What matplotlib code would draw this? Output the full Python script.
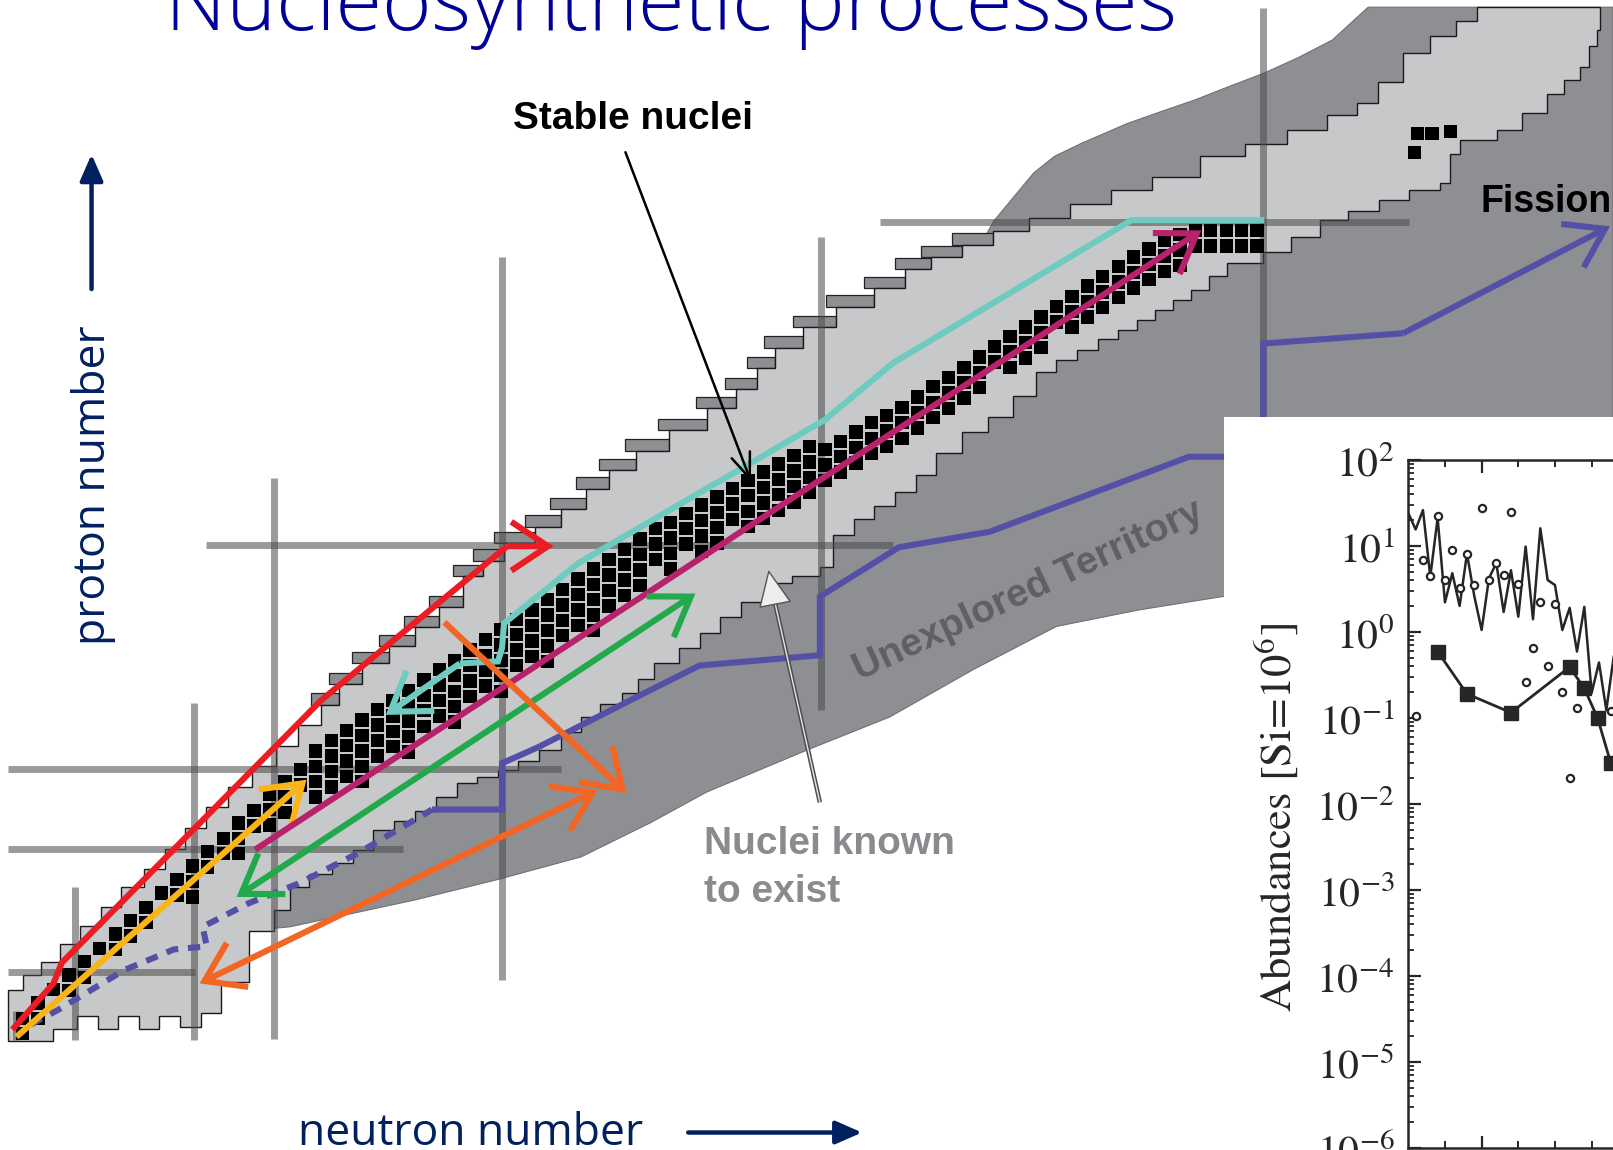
import numpy as np
import matplotlib
matplotlib.use("Agg")
import matplotlib.pyplot as plt
from matplotlib.patches import Polygon, Rectangle, FancyArrowPatch
from matplotlib.ticker import FixedLocator, FuncFormatter, LogLocator, NullFormatter

plt.rcParams["mathtext.fontset"] = "stix"

# Canvas units for the hand-drawn nuclide chart (x to the right, y downward)
W, H = 1568, 1118

# ---------------------------------------------------------------- outlines
# proton-rich edge of the known nuclei (step corners)
upper_x = [8, 22, 40, 58, 78, 98, 118, 140, 160, 180, 200, 222, 245, 268, 290, 312, 330, 352,
           378, 403, 427, 450, 470, 490, 520, 545, 570, 592, 618, 650, 687, 715, 736, 753, 781,
           813, 850, 880, 905, 935, 965, 1000, 1040, 1080, 1120, 1167, 1210, 1251, 1290, 1319,
           1340, 1364, 1390, 1415, 1436, 1540]
upper_y = [962, 948, 935, 918, 900, 882, 862, 845, 825, 805, 785, 765, 745, 725, 705, 685, 665, 645,
           628, 610, 590, 560, 545, 528, 512, 495, 475, 457, 438, 418, 397, 378, 358, 338, 318,
           298, 280, 262, 250, 238, 225, 212, 198, 185, 172, 152, 140, 126, 112, 100,
           80, 52, 35, 20, 7, 7]
# neutron-rich edge of the known nuclei (step corners)
lower_x = [8, 52, 75, 95, 115, 135, 155, 175, 195, 215, 242, 266, 282, 300, 323, 343, 363,
           383, 403, 424, 444, 464, 484, 504, 524, 545, 565, 583, 605, 620, 636, 660, 680, 700,
           720, 745, 770, 797, 810, 830, 850, 870, 890, 910, 935, 960, 985, 1007, 1027, 1047,
           1067, 1087, 1105, 1123, 1140, 1158, 1175, 1193, 1228, 1255, 1283, 1310, 1341, 1370,
           1400, 1410, 1419, 1455, 1480, 1504, 1520, 1536, 1545, 1552, 1555]
lower_y = [1012, 1000, 988, 1000, 988, 1000, 988, 998, 985, 955, 905, 885, 862, 850, 839, 826,
           807, 798, 788, 775, 761, 755, 749, 740, 729, 712, 697, 684, 674, 660, 645, 630, 615,
           600, 585, 567, 560, 551, 520, 505, 492, 478, 462, 440, 420, 405, 385, 362, 350, 340,
           330, 321, 311, 301, 292, 282, 268, 256, 245, 230, 214, 205, 194, 185, 178, 150, 136,
           126, 110, 91, 78, 65, 45, 29, 7]
# unexplored territory outline
dark_x = [1330, 1295, 1262, 1229, 1195, 1162, 1130, 1096, 1052, 1025, 1005, 985, 966, 952,
          600, 240, 240, 282, 403, 484, 565, 632, 687, 785, 865, 946, 1027, 1107, 1188, 1568, 1568]
dark_y = [7, 39, 56, 71, 84, 97, 108, 120, 139, 152, 168, 192, 215, 240,
          560, 880, 905, 901, 875, 855, 833, 800, 770, 729, 697, 651, 609, 593, 580, 560, 7]

# stable nuclei: columns of cells (x of column, top cell centre, number of cells)
stable_col_x = [22, 37, 52, 67, 82, 97, 112, 127, 142, 157, 172, 187, 202, 217, 232, 247, 262,
                277, 292, 307, 322, 337, 352, 367, 382, 397, 412, 427, 442, 457, 472, 487, 502,
                517, 532, 547, 562, 577, 592, 607, 622, 637, 652, 667, 682, 697, 712, 727, 742,
                757, 772, 787, 802, 817, 832, 847, 862, 877, 892, 907, 922, 937, 952, 967, 982,
                997, 1012, 1027, 1042, 1057, 1072, 1087, 1102, 1117, 1132, 1147, 1162, 1177,
                1192, 1207, 1222]
stable_col_top = [990, 975, 962, 948, 935, 922, 908, 895, 882, 868, 855, 842, 828, 815, 800, 788,
                  772, 760, 748, 730, 720, 710, 700, 690, 681, 671, 661, 651, 642, 632, 622, 612,
                  602, 593, 583, 573, 563, 553, 544, 534, 524, 514, 508, 499, 491, 483, 475, 467,
                  459, 451, 443, 434, 437, 429, 420, 411, 404, 396, 386, 376, 367, 357, 347, 337,
                  327, 318, 308, 298, 288, 278, 269, 259, 250, 242, 234, 228, 224, 224, 224,
                  224, 224]
stable_col_n = [2, 2, 1, 2, 2, 1, 2, 2, 2, 1, 2, 3, 2, 2, 3, 2, 3, 3, 2,
                4, 4, 4, 5, 4, 4, 5, 4, 4, 5, 4, 4, 5, 4, 4, 5, 4, 4, 5, 4, 4, 4, 3, 4, 3, 4, 4,
                3, 4, 4, 4, 4, 4,
                3, 3, 3, 3, 3, 3, 3, 3, 3, 3, 3, 2, 3, 3, 3, 2, 3, 3, 3, 3, 3, 3, 3, 3,
                2, 2, 2, 2, 2]
stable_extra_x = [1378, 1392, 1410, 1375]
stable_extra_y = [130, 130, 128, 148]

# magic-number bands: vertical (x, y_top, y_bottom) and horizontal (y, x_left, x_right)
magic_v = [(16, 983, 1011), (73, 862, 1011), (189, 683, 1011), (266, 465, 1010),
           (488, 250, 953), (798, 230, 690), (1228, 8, 405)]
magic_h = [(216, 855, 1370), (530, 200, 868), (748, 8, 545), (825, 8, 392), (945, 8, 190)]

# process paths
red_x, red_y = [12, 52, 60, 312, 493, 538], [1001, 956, 936, 681, 531, 531]
yellow_x, yellow_y = [16, 298], [1008, 758]
magenta_x, magenta_y = [248, 1168], [826, 224]
green_x, green_y = [230, 676], [872, 577]
cyan_x = [1229, 1100, 868, 802, 718, 563, 490, 488, 484, 447, 375]
cyan_y = [214, 214, 353, 408, 457, 547, 606, 630, 643, 645, 695]
orange_diag_x, orange_diag_y = [432, 609], [605, 771]
orange_long_x, orange_long_y = [194, 581], [956, 768]
blue_dot_x = [30, 56, 121, 169, 201, 197, 242, 290, 347, 420]
blue_dot_y = [996, 982, 943, 923, 920, 901, 878, 859, 830, 787]
blue_x = [420, 488, 488, 524, 632, 680, 797, 797, 874, 962, 1156, 1228, 1228, 1364, 1565]
blue_y = [787, 787, 742, 726, 671, 647, 637, 580, 532, 517, 444, 444, 334, 324, 220]

# ---------------------------------------------------------------- abundances
line_z = list(range(30, 59))
line_ab = [24, 15.5, 26, 4.4, 21, 2.2, 4.8, 2.0, 8.1, 2.6, 1.05, 4.2, 6.3, 1.7, 5.2, 1.5, 9.8,
           1.4, 16, 4.0, 3.5, 1.05, 1.9, 0.59, 1.95, 0.195, 0.44, 0.123, 0.51]
circ_z = [31, 32, 33, 34, 35, 36, 37, 38, 39, 40, 41, 42, 43, 44, 45, 46, 47, 48, 49, 50, 51,
          52, 53, 57.6]
circ_ab = [0.105, 6.9, 4.4, 22, 4.0, 8.9, 3.2, 8.1, 3.5, 27.5, 4.0, 6.3, 4.6, 25, 3.6, 0.26,
           0.65, 2.2, 0.40, 2.1, 0.20, 0.020, 0.13, 0.12]
sq_z = [34, 38, 44, 52, 54, 55.8, 57.6]
sq_ab = [0.59, 0.19, 0.115, 0.39, 0.22, 0.10, 0.030]


def stairs(xs, ys):
    pts = []
    for i in range(len(xs) - 1):
        pts.append((xs[i], ys[i]))
        pts.append((xs[i + 1], ys[i]))
    pts.append((xs[-1], ys[-1]))
    return pts


fig = plt.figure(figsize=(16.13, 11.50), dpi=100)
ax = fig.add_axes([0, 0, 1, 1])
ax.set_xlim(0, W)
ax.set_ylim(H, 0)
ax.axis("off")

DARK = "#8e8f93"
LIGHT = "#c7c8ca"

ax.add_patch(Polygon(list(zip(dark_x, dark_y)), closed=True, fc=DARK, ec="#6f7074",
                     lw=0.8, zorder=1))

# darker cells sitting on the proton-rich steps
for i in range(len(upper_x) - 1):
    if 300 <= upper_x[i] <= 940:
        ax.add_patch(Rectangle((upper_x[i] - 10, upper_y[i] - 11),
                               upper_x[i + 1] - upper_x[i] + 10, 11,
                               fc=DARK, ec="#222222", lw=0.9, zorder=1.5))

band = stairs(upper_x, upper_y) + stairs(lower_x, lower_y)[::-1]
ax.add_patch(Polygon(band, closed=True, fc=LIGHT, ec="#1a1a1a", lw=1.0, zorder=2))

for (x, y0, y1) in magic_v:
    ax.plot([x, x], [y0, y1], color="#4a4a4a", alpha=0.55, lw=5.0,
            solid_capstyle="butt", zorder=2.5)
for (y, x0, x1) in magic_h:
    ax.plot([x0, x1], [y, y], color="#4a4a4a", alpha=0.55, lw=5.0,
            solid_capstyle="butt", zorder=2.5)

S, PITCH = 13, 15
for x, top, n in zip(stable_col_x, stable_col_top, stable_col_n):
    for k in range(n):
        y = top + k * PITCH
        ax.add_patch(Rectangle((x - S / 2, y - S / 2), S, S, fc="black", ec="none", zorder=3))
for x, y in zip(stable_extra_x, stable_extra_y):
    ax.add_patch(Rectangle((x - S / 2, y - S / 2), S, S, fc="black", ec="none", zorder=3))

LW = 4.4


def route(xs, ys, color, start_head=False, end_head=True):
    if len(xs) > 2:
        ax.plot(xs[:-1], ys[:-1], color=color, lw=LW, solid_joinstyle="miter",
                solid_capstyle="butt", zorder=6)
    if start_head and end_head:
        style = "<->"
    elif end_head:
        style = "->"
    else:
        style = "-"
    ax.add_patch(FancyArrowPatch((xs[-2], ys[-2]), (xs[-1], ys[-1]),
                                 arrowstyle=f"{style},head_length=1.2,head_width=0.8",
                                 mutation_scale=22, lw=LW, color=color, shrinkA=0, shrinkB=0,
                                 joinstyle="miter", capstyle="butt", zorder=6))


BLUE = "#5450a6"
ax.plot(blue_dot_x, blue_dot_y, color=BLUE, lw=LW, ls=(0, (2.0, 1.6)), zorder=5)
route(blue_x, blue_y, BLUE)
route(red_x, red_y, "#ec1c24")
route(yellow_x, yellow_y, "#fbb416")
route(magenta_x, magenta_y, "#b8216c")
route(green_x, green_y, "#21a94c", start_head=True)
route(cyan_x, cyan_y, "#6dcbbf")
route(orange_diag_x, orange_diag_y, "#f26522")
route(orange_long_x, orange_long_y, "#f26522", start_head=True)

# labels inside the chart
ax.text(615, 125, "Stable nuclei", ha="center", va="baseline", fontsize=28,
        fontweight="bold", family="Liberation Sans", color="black", zorder=8)
ax.annotate("", xy=(730, 468), xytext=(608, 148),
            arrowprops=dict(arrowstyle="->,head_length=0.9,head_width=0.35", lw=1.8,
                            color="black", shrinkA=0, shrinkB=0, mutation_scale=20), zorder=8)

ax.plot([797, 752], [780, 580], color="#4d4d4d", lw=3.2, zorder=7, solid_capstyle="butt")
ax.plot([797, 752], [780, 580], color="#e8e8e8", lw=1.0, zorder=7, solid_capstyle="butt")
ax.add_patch(FancyArrowPatch((753, 585), (747, 554),
                             arrowstyle="-|>,head_length=1.2,head_width=0.55",
                             mutation_scale=20, fc="#eeeeee", ec="#555555", lw=1.0,
                             shrinkA=0, shrinkB=0, zorder=7))
ax.text(684, 830, "Nuclei known", ha="left", va="baseline", fontsize=28,
        fontweight="bold", family="Liberation Sans", color="#8a8b8f", zorder=8)
ax.text(684, 877, "to exist", ha="left", va="baseline", fontsize=28,
        fontweight="bold", family="Liberation Sans", color="#8a8b8f", zorder=8)
ax.text(1000, 575, "Unexplored Territory", ha="center", va="center", rotation=25,
        rotation_mode="anchor", fontsize=28, fontweight="bold", family="Liberation Sans",
        color="#5f6064", zorder=8)
ax.text(1439, 206, "Fission", ha="left", va="baseline", fontsize=27, fontweight="bold",
        family="Liberation Sans", color="black", zorder=8)

# slide title and axis hints
NAVY = "#002060"
ax.text(652, 29, "Nucleosynthetic processes", ha="center", va="baseline", fontsize=61,
        family="Open Sans", fontweight="light", color="#000096", zorder=8)
ax.text(91, 472, "proton number", ha="center", va="center", rotation=90, fontsize=32,
        family="Open Sans", color=NAVY, zorder=8)
ax.annotate("", xy=(89, 150), xytext=(89, 281),
            arrowprops=dict(arrowstyle="-|>,head_length=0.8,head_width=0.35", lw=3.2,
                            color=NAVY, shrinkA=0, shrinkB=0, mutation_scale=20))
ax.text(290, 1113, "neutron number", ha="left", va="baseline", fontsize=32,
        family="Open Sans", color=NAVY, zorder=8)
ax.annotate("", xy=(838, 1101), xytext=(669, 1101),
            arrowprops=dict(arrowstyle="-|>,head_length=0.8,head_width=0.35", lw=3.2,
                            color=NAVY, shrinkA=0, shrinkB=0, mutation_scale=20))

# ---------------------------------------------------------------- abundance panel
ax.add_patch(Rectangle((1190, 405), W - 1190, H - 405, fc="white", ec="none", zorder=10))


def fx(x):
    return x / W


def fy(y):
    return 1 - y / H


z_lo, z_hi = 30, 90
px_per_z = 7.13
axi = fig.add_axes([fx(1369), fy(1116), (z_hi - z_lo) * px_per_z / W, fy(447) - fy(1116)],
                   zorder=20)
axi.set_yscale("log")
axi.set_xlim(z_lo, z_hi)
axi.set_ylim(1e-6, 1e2)
INK = "#262626"
axi.plot(line_z, line_ab, color=INK, lw=1.8, zorder=3)
axi.plot(sq_z, sq_ab, color=INK, lw=2.0, marker="s", ms=9.5, mfc=INK, mec=INK, zorder=4)
axi.plot(circ_z, circ_ab, ls="none", marker="o", ms=5.2, mfc="white", mec=INK, mew=1.6,
         zorder=5)

axi.xaxis.set_major_locator(FixedLocator([40, 60, 80]))
axi.xaxis.set_minor_locator(FixedLocator(list(range(35, 90, 5))))
axi.xaxis.set_major_formatter(NullFormatter())
axi.yaxis.set_major_locator(LogLocator(base=10, numticks=20))
axi.yaxis.set_minor_locator(LogLocator(base=10, subs=np.arange(2, 10) * 1.0, numticks=100))
axi.yaxis.set_minor_formatter(NullFormatter())
axi.yaxis.set_major_formatter(FuncFormatter(lambda v, p: r"$10^{%d}$" % round(np.log10(v))))
axi.tick_params(axis="both", which="both", direction="in", top=True, bottom=True,
                left=True, right=False, colors=INK)
axi.tick_params(axis="y", which="major", length=9, width=1.6, pad=10, labelsize=30)
axi.tick_params(axis="y", which="minor", length=4.5, width=1.3)
axi.tick_params(axis="x", which="major", length=9, width=1.6)
axi.tick_params(axis="x", which="minor", length=5, width=1.4)
for sp in axi.spines.values():
    sp.set_linewidth(1.8)
    sp.set_color(INK)

fig.text(fx(1241), fy(795), "Abundances [Si=10$^6$]", rotation=90, ha="center", va="center",
         fontsize=32, family="STIXGeneral", color=INK, zorder=30)

fig.savefig("out.png", dpi=100)
